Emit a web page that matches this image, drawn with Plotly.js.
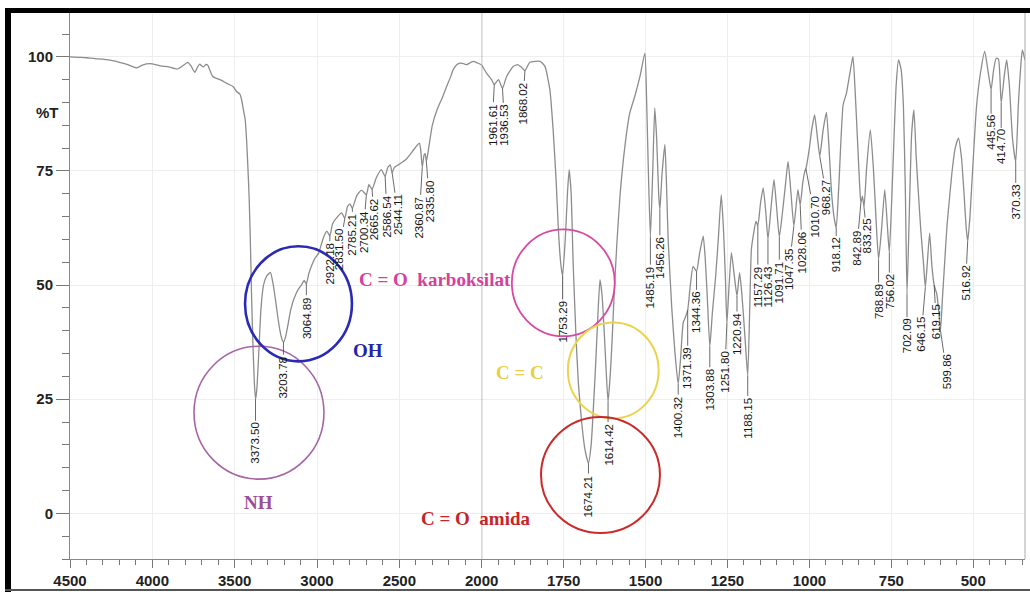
<!DOCTYPE html>
<html>
<head>
<meta charset="utf-8">
<script src="https://cdn.plot.ly/plotly-3.0.1.min.js"></script>
<style>
html,body{margin:0;padding:0;background:#fff;}
#chart{width:1030px;height:592px;}
</style>
</head>
<body>
<div id="chart"></div>
<script>
// ---------- DATA ----------
const wnLeft = [4500,4450,4400,4350,4300,4250,4200,4150,4094,4060,
  4015,3980,3950,3900,3852,3820,3785,3765,3742,3725,
  3712,3700,3688,3676,3664,3650,3633,3590,3548,3510,
  3488,3468,3458,3445,3437,3428,3420,3413,3405,3397,
  3389,3381,3373.5,3366,3358,3350,3340,3325,3305,3283,
  3268,3255,3240,3225,3212,3203.78,3192,3178,3160,3140,
  3115,3095,3078,3064.89,3050,3030,3010,2990,2975,2960,
  2940,2922.18,2905,2875,2850,2831.5,2815,2800,2785.21,2760,
  2730,2700.34,2685,2665.62,2640,2610,2586.54,2570,2555,2544.11,
  2530,2500,2460,2420,2395,2378,2370,2360.87,2350,2343,
  2335.8,2320,2300,2270,2240,2213,2190,2173,2150,2132,
  2110,2091,2070,2051,2035,2021,2000];
const tLeft = [100.0,99.9,99.8,99.6,99.5,99.2,98.8,98.3,97.6,98.2,
  98.5,98.3,98.0,97.8,97.3,97.9,98.8,98.0,96.6,97.8,
  98.4,98.0,97.8,98.3,98.2,97.0,95.7,95.0,94.2,93.5,
  92.4,91.8,90.6,88.0,86.5,82.0,76.0,70.0,60.0,47.0,
  37.0,29.0,25.0,27.0,32.0,38.0,45.0,50.0,52.0,52.8,
  50.5,47.5,43.5,40.0,38.0,37.5,38.5,41.0,44.5,47.0,
  49.0,50.0,51.0,50.3,52.5,54.5,56.0,57.0,58.8,60.5,
  61.8,60.8,63.5,65.0,65.8,64.6,67.2,67.8,66.8,69.5,
  70.8,69.8,72.0,71.0,73.5,75.3,73.8,75.8,76.3,74.6,
  75.8,76.5,77.5,79.3,80.5,81.1,79.5,75.8,78.5,78.8,
  77.0,80.5,85.0,88.5,91.0,93.5,95.5,97.2,98.3,98.6,
  98.5,98.3,98.7,99.0,98.8,98.6,98.2];

const wnRight = [2000,1985,1970,1961.61,1949,1936.53,1924,1904,1890,1880,
  1868.02,1853,1822,1807,1792,1782,1773,1766,1759,1753.29,
  1745,1738,1733,1727,1721,1713,1705,1695,1685,1674.21,
  1666,1660,1652,1645,1639,1633,1627,1620,1614.42,1608,
  1602,1596,1588,1578,1563,1548,1533,1517,1502,1497,
  1492,1485.19,1478,1472,1466,1460,1456.26,1450,1441,1436,
  1431,1420,1410,1400.32,1393,1385,1378,1371.39,1364,1355,
  1344.36,1335,1324,1318,1312,1303.88,1296,1286,1278,1269,
  1262,1256,1251.8,1245,1238,1229,1220.94,1213,1206,1196,
  1188.15,1182,1177,1170,1163,1157.29,1149,1141,1133,1126.43,
  1117,1108,1100,1091.71,1082,1073,1065,1056,1047.35,1035,
  1028.06,1020,1014,1010.7,1000,993,984,975,968.27,958,
  948,940,933,925,918.12,910,897,887,875,867,
  860,852,846,842.89,838,833.25,825,814,805,797,
  788.89,780,770,762,756.02,748,742,735,728,720,
  713,707,702.09,695,688,681,674,668,660,652,
  646.15,640,633,626,619.15,611,605,599.86,594,588,
  580,565,555,545,536,528,522,516.92,510,502,
  490,478,465,455,445.56,438,430,423,414.7,405,
  398,390,380,370.33,362,355,350,342];
const tRight = [98.2,96.4,95.0,93.9,95.0,93.1,95.7,97.9,98.3,97.8,
  97.0,98.8,99.0,97.9,92.8,84.0,73.1,62.2,54.9,52.0,
  60.0,70.5,75.3,70.0,55.0,40.0,28.5,20.0,14.0,11.0,
  15.0,22.0,33.0,44.0,51.2,48.0,41.0,31.0,24.5,30.0,
  38.0,47.6,58.5,69.5,80.4,87.7,91.3,95.7,100.8,91.3,
  76.8,60.5,75.0,88.8,82.0,70.0,66.5,74.0,80.8,72.0,
  60.0,45.0,35.0,28.3,34.0,41.8,43.0,44.5,49.5,54.1,
  53.0,57.0,60.7,56.0,48.0,36.5,44.0,52.0,60.0,69.8,
  62.0,51.0,41.5,50.0,57.1,52.0,47.6,52.7,48.0,38.0,
  30.1,45.0,57.8,61.4,64.0,63.0,68.0,71.3,66.0,60.0,
  67.0,73.1,67.0,60.5,66.0,72.0,77.1,70.0,62.9,70.9,
  67.5,72.5,74.9,75.5,80.0,84.0,87.3,82.0,78.2,84.0,
  87.8,80.0,70.9,65.0,62.5,72.0,89.5,92.0,97.0,100.1,
  92.0,80.0,71.0,68.0,69.5,67.0,76.0,84.0,76.0,65.0,
  55.6,62.0,70.9,63.0,57.1,70.0,81.8,94.0,99.3,97.2,
  89.1,70.0,48.0,66.0,83.0,88.4,78.0,70.9,62.0,55.0,
  49.5,55.0,61.4,54.1,50.0,48.0,44.0,40.0,47.0,54.0,
  63.0,74.6,80.0,82.2,78.0,70.0,63.0,59.5,65.0,75.0,
  89.1,96.4,101.2,97.0,92.8,97.0,99.7,99.5,89.9,96.0,
  99.3,94.0,82.0,77.0,90.0,98.0,101.5,99.3];

// labelled band positions (cm-1)
const peakLabels = [3373.5,3203.78,3064.89,2922.18,2831.5,2785.21,2700.34,2665.62,2586.54,2544.11,
  2360.87,2335.8,1961.61,1936.53,1868.02,1753.29,1674.21,1614.42,1485.19,1456.26,
  1400.32,1371.39,1344.36,1303.88,1251.8,1220.94,1188.15,1157.29,1126.43,1091.71,
  1047.35,1028.06,1010.7,968.27,918.12,842.89,833.25,788.89,756.02,702.09,
  646.15,619.15,599.86,516.92,445.56,414.7,370.33];

const leftTicks = [4500,4000,3500,3000,2500];
const rightTicks = [2000,1750,1500,1250,1000,750,500];
const yTicks = [0,25,50,75,100];

// group labels
const groupNames = ["NH","OH","C = O  karboksilat","C = C","C = O  amida"];

// ---------- LAYOUT / STYLE ----------
// pixel offsets (down, sideways) from each band to its label text centre
const labelOffsets = [44,35,34,28,31,26,37,30,40,42,
  50,39,40,37,33,46,33,43,50,48,
  33,58,41,43,48,38,42,61,47,45,
  43,47,48,41,27,45,29,42,39,42,
  47,37,41,41,43,44,40];
const labelShifts = [0,0,0,0,-5,0,-3,2,2,6,
  -3,3,-2,2,-2,0,0,0,0,0,
  0,0,0,0,-2,0,0,0,0,0,
  -5,2,9,7,0,-4,3,0,0,0,
  -4,2,6,-2,0,0,0];

const lookup = {};
wnLeft.forEach((w,i)=>{lookup[w]=tLeft[i];});
wnRight.forEach((w,i)=>{lookup[w]=tRight[i];});

const lineStyle = {color:'#8c8c8c', width:1.3, shape:'spline', smoothing:0.5};
const traces = [
  {x: wnLeft, y: tLeft, xaxis:'x', yaxis:'y', mode:'lines', line: lineStyle, hoverinfo:'x+y'},
  {x: wnRight, y: tRight, xaxis:'x2', yaxis:'y', mode:'lines', line: lineStyle, hoverinfo:'x+y'}
];

const split = (481.7-70)/955;
const tickFont = {family:'"Liberation Sans", Arial, sans-serif', size:15, color:'#222', weight:'bold'};
const axCommon = {
  showline:true, linecolor:'#888', linewidth:1, zeroline:false,
  showgrid:true, gridcolor:'#eeeeee', gridwidth:1,
  ticks:'outside', ticklen:8, tickcolor:'#777', tickfont:tickFont,
  tickmode:'array', anchor:'y', fixedrange:true
};

const annotations = [];
peakLabels.forEach((w,i)=>{
  annotations.push({
    xref: w>=2000?'x':'x2', yref:'y', x:w, y:lookup[w],
    text: w.toFixed(2), textangle:-90, showarrow:true, arrowhead:0,
    arrowwidth:0.8, arrowcolor:'#444', ax:labelShifts[i], ay:labelOffsets[i], standoff:0,
    font:{family:'"Liberation Sans", Arial, sans-serif', size:11.5, color:'#151515'}
  });
});

const serif = '"Liberation Serif", "Times New Roman", serif';
const groupStyle = [
  {xref:'x', x:3358, y:2.3, color:'#9a4e9a', xanchor:'center'},
  {xref:'x', x:2690, y:35.6, color:'#2424a8', xanchor:'center'},
  {xref:'x2', x:1905, y:51.3, color:'#d6409c', xanchor:'right'},
  {xref:'x2', x:1884, y:30.9, color:'#e6d046', xanchor:'center'},
  {xref:'x', x:2035, y:-1.2, color:'#c8232b', xanchor:'center'}
];
groupNames.forEach((g,i)=>{
  const s = groupStyle[i];
  annotations.push({xref:s.xref, yref:'y', x:s.x, y:s.y, text:g, showarrow:false,
    xanchor:s.xanchor, yanchor:'middle',
    font:{family:serif, size:19, color:s.color, weight:'bold'}});
});
annotations.push({xref:'paper', yref:'y', x:-0.024, y:87.7, text:'%T', showarrow:false,
  xanchor:'center', yanchor:'middle', font:tickFont});

const circles = [
  {xref:'x', x0:3747, x1:2958, y0:7.5, y1:36.6, color:'#a466a4', w:1.6},
  {xref:'x', x0:3437, x1:2788, y0:33.3, y1:58.5, color:'#2a2ab4', w:2.6},
  {xref:'x2', x0:1908, x1:1594, y0:38.8, y1:62.2, color:'#d84aa2', w:1.8},
  {xref:'x2', x0:1737, x1:1460, y0:20.8, y1:41.8, color:'#ead44e', w:2.0},
  {xref:'x2', x0:1819, x1:1456, y0:-4.3, y1:21.1, color:'#cc2a2a', w:2.0}
];
const shapes = circles.map(c=>({type:'circle', xref:c.xref, yref:'y', x0:c.x0, x1:c.x1, y0:c.y0, y1:c.y1,
  line:{color:c.color, width:c.w}, layer:'above'}));
// axis break line at 2000 and right frame
shapes.push({type:'line', xref:'x2', yref:'paper', x0:2000, x1:2000, y0:0, y1:1, line:{color:'#6e6e6e', width:1}});
shapes.push({type:'line', xref:'paper', yref:'paper', x0:1, x1:1, y0:0, y1:1, line:{color:'#aaaaaa', width:1}});
// image border
const px = v => (v-70)/955, py = v => (559-v)/546;
shapes.push({type:'rect', xref:'paper', yref:'paper', x0:px(5), x1:px(1031), y0:py(13), y1:py(8), fillcolor:'#000', line:{width:0}, layer:'above'});
shapes.push({type:'rect', xref:'paper', yref:'paper', x0:px(5), x1:px(11), y0:py(592), y1:py(8), fillcolor:'#000', line:{width:0}, layer:'above'});
shapes.push({type:'rect', xref:'paper', yref:'paper', x0:px(5), x1:px(1031), y0:py(591), y1:py(589), fillcolor:'#555', line:{width:0}, layer:'above'});

const layout = {
  width:1030, height:592,
  margin:{l:70, r:5, t:13, b:33},
  paper_bgcolor:'#fff', plot_bgcolor:'#fff',
  showlegend:false,
  xaxis: Object.assign({}, axCommon, {domain:[0, split], range:[4500,2000], tickvals:leftTicks,
    minor:{tickmode:'linear', tick0:0, dtick:100, ticks:'outside', ticklen:5, tickcolor:'#777', showgrid:false}}),
  xaxis2: Object.assign({}, axCommon, {domain:[split, 1], range:[2000,342], tickvals:rightTicks,
    minor:{tickmode:'linear', tick0:0, dtick:50, ticks:'outside', ticklen:5, tickcolor:'#777', showgrid:false}}),
  yaxis: Object.assign({}, axCommon, {anchor:'x', range:[-10,109.6], tickvals:yTicks, ticklen:13,
    minor:{tickmode:'linear', tick0:0, dtick:5, ticks:'outside', ticklen:7, tickcolor:'#777', showgrid:false}}),
  annotations: annotations,
  shapes: shapes
};

Plotly.newPlot('chart', traces, layout, {displayModeBar:false, staticPlot:true});
</script>
</body>
</html>
